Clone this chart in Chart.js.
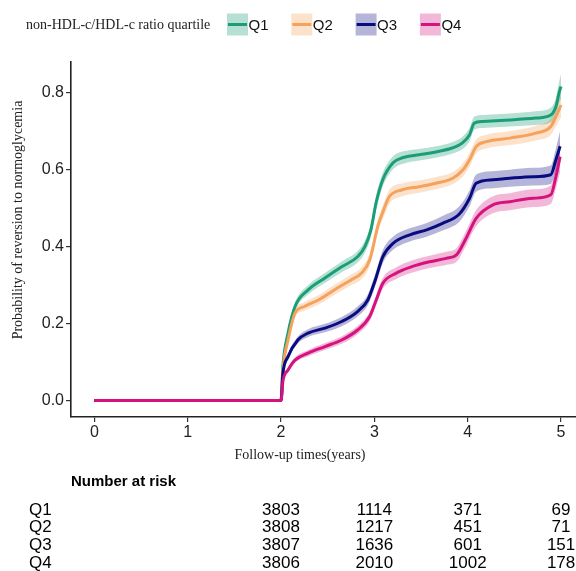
<!DOCTYPE html>
<html lang="en">
<head>
  <meta charset="UTF-8">
  <title>Reversion to normoglycemia by non-HDL-c/HDL-c ratio quartile</title>
  <script src="https://cdn.jsdelivr.net/npm/chart.js"></script>
  <style>
    body { margin: 0; background: #fff; }
    #wrap { position: relative; width: 576px; height: 571px; }
  </style>
</head>
<body>
  <div id="wrap"><canvas id="kmChart"></canvas></div>

  <script>
    // --- data ---
    const groups = ['Q1', 'Q2', 'Q3', 'Q4'];
    const legendTitle = 'non-HDL-c/HDL-c ratio quartile';
    const xTitle = 'Follow-up times(years)';
    const yTitle = 'Probability of reversion to normoglycemia';

    const xTickVals = [0, 1, 2, 3, 4, 5];
    const yTickVals = [0, 0.2, 0.4, 0.6, 0.8];
    const yTickLabels = ['0.0', '0.2', '0.4', '0.6', '0.8'];

    const q1Time = [0, 2.0, 2.02, 2.075, 2.15, 2.29, 2.47, 2.65, 2.82, 2.9, 2.96, 3.02, 3.09, 3.2, 3.3, 3.48, 3.66, 3.84, 3.94, 4.02, 4.07, 4.16, 4.45, 4.73, 4.89, 4.945, 4.98, 5.0];
    const q1Prob = [0, 0, 0.09, 0.175, 0.244, 0.287, 0.318, 0.347, 0.373, 0.40, 0.44, 0.515, 0.573, 0.617, 0.63, 0.638, 0.645, 0.656, 0.668, 0.69, 0.72, 0.724, 0.728, 0.733, 0.741, 0.763, 0.80, 0.815];
    const q1Lower = [0, 0, 0.084, 0.165, 0.233, 0.275, 0.305, 0.333, 0.358, 0.384, 0.423, 0.497, 0.555, 0.600, 0.614, 0.623, 0.630, 0.641, 0.652, 0.673, 0.703, 0.707, 0.711, 0.715, 0.722, 0.741, 0.772, 0.783];
    const q1Upper = [0, 0, 0.096, 0.185, 0.255, 0.299, 0.331, 0.361, 0.388, 0.416, 0.457, 0.533, 0.591, 0.634, 0.646, 0.653, 0.660, 0.671, 0.684, 0.707, 0.737, 0.741, 0.745, 0.751, 0.760, 0.785, 0.828, 0.847];

    const q2Time = [0, 2.0, 2.02, 2.075, 2.15, 2.25, 2.4, 2.57, 2.75, 2.86, 2.95, 3.04, 3.1, 3.16, 3.3, 3.48, 3.66, 3.84, 3.95, 4.02, 4.09, 4.2, 4.45, 4.73, 4.89, 4.945, 5.0];
    const q2Prob = [0, 0, 0.079, 0.157, 0.227, 0.244, 0.261, 0.287, 0.313, 0.33, 0.365, 0.455, 0.495, 0.529, 0.547, 0.555, 0.564, 0.577, 0.599, 0.625, 0.659, 0.672, 0.681, 0.694, 0.711, 0.737, 0.767];
    const q2Lower = [0, 0, 0.073, 0.148, 0.217, 0.233, 0.249, 0.274, 0.299, 0.315, 0.349, 0.438, 0.477, 0.511, 0.530, 0.539, 0.548, 0.561, 0.582, 0.607, 0.641, 0.654, 0.663, 0.675, 0.690, 0.712, 0.735];
    const q2Upper = [0, 0, 0.085, 0.166, 0.237, 0.255, 0.273, 0.300, 0.327, 0.345, 0.381, 0.472, 0.513, 0.547, 0.564, 0.571, 0.580, 0.593, 0.616, 0.643, 0.677, 0.690, 0.699, 0.713, 0.732, 0.762, 0.799];

    const q3Time = [0, 2.0, 2.02, 2.075, 2.18, 2.29, 2.47, 2.65, 2.82, 2.93, 3.01, 3.09, 3.2, 3.38, 3.56, 3.73, 3.91, 4.02, 4.09, 4.27, 4.45, 4.7, 4.89, 4.945, 4.99];
    const q3Prob = [0, 0, 0.07, 0.114, 0.157, 0.175, 0.188, 0.205, 0.231, 0.261, 0.313, 0.373, 0.408, 0.43, 0.443, 0.46, 0.484, 0.525, 0.564, 0.573, 0.577, 0.581, 0.586, 0.625, 0.66];
    const q3Lower = [0, 0, 0.064, 0.106, 0.148, 0.165, 0.177, 0.193, 0.218, 0.247, 0.297, 0.356, 0.391, 0.413, 0.425, 0.441, 0.464, 0.504, 0.542, 0.551, 0.555, 0.558, 0.562, 0.595, 0.62];
    const q3Upper = [0, 0, 0.076, 0.122, 0.166, 0.185, 0.199, 0.217, 0.244, 0.275, 0.329, 0.390, 0.425, 0.447, 0.461, 0.479, 0.504, 0.546, 0.586, 0.595, 0.599, 0.604, 0.610, 0.655, 0.70];

    const q4Time = [0, 2.0, 2.02, 2.075, 2.15, 2.29, 2.47, 2.65, 2.82, 2.95, 3.02, 3.09, 3.23, 3.41, 3.59, 3.77, 3.88, 3.98, 4.09, 4.27, 4.45, 4.7, 4.89, 4.945, 4.99];
    const q4Prob = [0, 0, 0.05, 0.079, 0.105, 0.123, 0.14, 0.157, 0.183, 0.218, 0.261, 0.304, 0.33, 0.348, 0.36, 0.369, 0.378, 0.42, 0.473, 0.508, 0.516, 0.525, 0.534, 0.581, 0.633];
    const q4Lower = [0, 0, 0.045, 0.073, 0.098, 0.115, 0.131, 0.147, 0.172, 0.206, 0.248, 0.290, 0.315, 0.332, 0.344, 0.352, 0.360, 0.401, 0.452, 0.486, 0.494, 0.502, 0.510, 0.551, 0.593];
    const q4Upper = [0, 0, 0.055, 0.085, 0.112, 0.131, 0.149, 0.167, 0.194, 0.230, 0.274, 0.318, 0.345, 0.364, 0.376, 0.386, 0.396, 0.439, 0.494, 0.530, 0.538, 0.548, 0.558, 0.611, 0.673];

    // number at risk
    const riskTimes = [2, 3, 4, 5];
    const riskQ1 = [3803, 1114, 371, 69];
    const riskQ2 = [3808, 1217, 451, 71];
    const riskQ3 = [3807, 1636, 601, 151];
    const riskQ4 = [3806, 2010, 1002, 178];

    // --- styling ---
    const lineColors = ['#1b9e77', '#f5a25d', '#0b0b80', '#d4137f'];
    const bandColors = ['rgba(27,158,119,0.32)', 'rgba(245,162,93,0.32)', 'rgba(11,11,128,0.30)', 'rgba(212,19,127,0.30)'];
    const sans = '"Liberation Sans", Arial, sans-serif';
    const serif = '"Liberation Serif", "Times New Roman", serif';

    const series = [
      { t: q1Time, p: q1Prob, lo: q1Lower, hi: q1Upper },
      { t: q2Time, p: q2Prob, lo: q2Lower, hi: q2Upper },
      { t: q3Time, p: q3Prob, lo: q3Lower, hi: q3Upper },
      { t: q4Time, p: q4Prob, lo: q4Lower, hi: q4Upper }
    ];
    const riskRows = [riskQ1, riskQ2, riskQ3, riskQ4];

    const pts = (t, v) => t.map((x, i) => ({ x: x, y: v[i] }));

    const datasets = [];
    series.forEach((s, i) => {
      // confidence band: lower, then upper filled back to lower
      datasets.push({
        label: groups[i] + ' lower', data: pts(s.t, s.lo),
        borderWidth: 0, pointRadius: 0, fill: false, order: 20 + i,
        cubicInterpolationMode: 'monotone'
      });
      datasets.push({
        label: groups[i] + ' upper', data: pts(s.t, s.hi),
        borderWidth: 0, pointRadius: 0, fill: '-1', backgroundColor: bandColors[i], order: 20 + i,
        cubicInterpolationMode: 'monotone'
      });
    });
    series.forEach((s, i) => {
      datasets.push({
        label: groups[i], data: pts(s.t, s.p),
        borderColor: lineColors[i], borderWidth: 3, pointRadius: 0, fill: false,
        order: 3 - i, cubicInterpolationMode: 'monotone'
      });
    });

    // legend, axis titles and the risk table
    const extras = {
      id: 'extras',
      afterDraw(chart) {
        const ctx = chart.ctx;
        const xs = chart.scales.x;
        ctx.save();

        ctx.textBaseline = 'middle';
        ctx.textAlign = 'left';
        ctx.fillStyle = '#222';
        ctx.font = '14px ' + serif;
        ctx.fillText(legendTitle, 26, 25);

        groups.forEach((g, i) => {
          const bx = 227 + i * 64.3;
          ctx.fillStyle = bandColors[i];
          ctx.fillRect(bx, 13.5, 21, 22);
          ctx.strokeStyle = lineColors[i];
          ctx.lineWidth = 3;
          ctx.beginPath();
          ctx.moveTo(bx + 1, 24.5);
          ctx.lineTo(bx + 20, 24.5);
          ctx.stroke();
          ctx.fillStyle = '#111';
          ctx.font = '15px ' + sans;
          ctx.fillText(g, bx + 21.5, 25.5);
        });

        // axis titles
        ctx.fillStyle = '#222';
        ctx.font = '14px ' + serif;
        ctx.textAlign = 'center';
        ctx.fillText(xTitle, 300, 455);
        ctx.save();
        ctx.translate(18, 220);
        ctx.rotate(-Math.PI / 2);
        ctx.fillText(yTitle, 0, 0);
        ctx.restore();

        // number at risk
        ctx.fillStyle = '#000';
        ctx.textAlign = 'left';
        ctx.font = 'bold 15px ' + sans;
        ctx.fillText('Number at risk', 71, 482);
        const rowY = [510, 527.5, 545.5, 563];
        ctx.font = '17px ' + sans;
        riskRows.forEach((row, r) => {
          ctx.textAlign = 'left';
          ctx.fillText(groups[r], 29, rowY[r]);
          ctx.textAlign = 'center';
          row.forEach((n, k) => {
            ctx.fillText(String(n), xs.getPixelForValue(riskTimes[k]), rowY[r]);
          });
        });
        ctx.restore();
      }
    };

    const ctx = document.getElementById('kmChart').getContext('2d');
    new Chart(ctx, {
      type: 'line',
      data: { datasets: datasets },
      plugins: [extras],
      options: {
        responsive: true,
        maintainAspectRatio: false,
        animation: false,
        layout: { padding: { top: 62, bottom: 114, left: 0, right: 0 } },
        plugins: {
          legend: { display: false },
          tooltip: { enabled: false }
        },
        scales: {
          x: {
            type: 'linear',
            min: -0.25,
            max: 5.16,
            afterBuildTicks: s => { s.ticks = xTickVals.map(v => ({ value: v })); },
            afterFit: s => { s.height = 40; },
            ticks: { color: '#222', font: { family: sans, size: 16 }, padding: 1, maxRotation: 0, autoSkip: false },
            grid: { drawOnChartArea: false, tickLength: 5, color: '#333', lineWidth: 1.2 },
            border: { color: '#222', width: 1.6 }
          },
          y: {
            min: -0.0428,
            max: 0.8786,
            afterBuildTicks: s => { s.ticks = yTickVals.map(v => ({ value: v })); },
            afterFit: s => { s.width = 71; },
            ticks: {
              color: '#222', font: { family: sans, size: 16 }, padding: 2,
              callback: (v, i) => yTickLabels[i]
            },
            grid: { drawOnChartArea: false, tickLength: 5, color: '#333', lineWidth: 1.2 },
            border: { color: '#222', width: 1.6 }
          }
        }
      }
    });
  </script>
</body>
</html>
